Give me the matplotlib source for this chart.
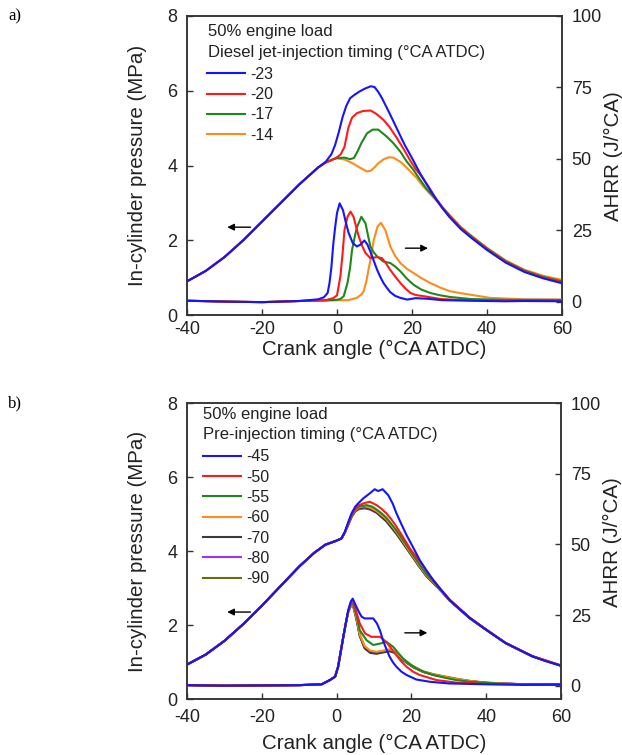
import matplotlib
matplotlib.use('Agg')
import matplotlib.pyplot as plt
import numpy as np

plt.rcParams['font.family'] = ['Liberation Sans', 'DejaVu Sans']
plt.rcParams['axes.unicode_minus'] = False

# ---------------- panel a: diesel jet-injection timing ----------------
labels_a = ['-23', '-20', '-17', '-14']
colors_a = ['#1414ff', '#ff1a1a', '#1a8a1a', '#ff8c1a']

ca_p_a = [
    [-40, -35, -30, -25, -20, -15, -10, -5, -3, -1.5, -0.5, 0.5, 1.5, 2.5, 3.5, 4.5, 6, 7.5, 9, 10, 11, 12, 13, 14,
     16, 18, 20, 22, 24, 26, 28, 30, 33, 36, 40, 45, 50, 55, 60],
    [-40, -35, -30, -25, -20, -15, -10, -5, -3, -1, 0, 1, 2, 2.5, 3, 4, 5.3, 7, 9, 10.5, 12.4, 14, 16, 18, 19.6, 21,
     22, 24, 26, 28, 30, 33, 36, 40, 45, 50, 55, 60],
    [-40, -35, -30, -25, -20, -15, -10, -5, -3, -1, 0, 2, 3.5, 4.5, 5.5, 6.5, 8, 9.5, 11, 13.3, 15, 16.9, 18.5, 20.4,
     22, 24, 26, 28, 30, 33, 36, 40, 45, 50, 55, 60],
    [-40, -35, -30, -25, -20, -15, -10, -5, -3, -1, 0, 2, 4, 6, 8, 9, 10, 11, 12.5, 13.8, 15, 16.9, 19, 21.3, 23, 25,
     27, 30, 33, 36, 40, 45, 50, 55, 60],
]
p_a = [
    [0.90, 1.18, 1.55, 2.0, 2.5, 3.0, 3.5, 3.95, 4.1, 4.3, 4.55, 4.9, 5.3, 5.6, 5.8, 5.88, 5.98, 6.06, 6.12, 6.1, 5.97,
     5.8, 5.6, 5.4, 4.98, 4.56, 4.2, 3.82, 3.48, 3.16, 2.87, 2.62, 2.3, 2.05, 1.74, 1.4, 1.15, 0.98, 0.85],
    [0.90, 1.18, 1.55, 2.0, 2.5, 3.0, 3.5, 3.95, 4.08, 4.16, 4.22, 4.3, 4.5, 4.75, 5.0, 5.28, 5.4, 5.46, 5.47, 5.38,
     5.22, 5.03, 4.73, 4.4, 4.12, 3.9, 3.78, 3.5, 3.18, 2.89, 2.64, 2.32, 2.07, 1.76, 1.42, 1.17, 1.0, 0.88],
    [0.90, 1.18, 1.55, 2.0, 2.5, 3.0, 3.5, 3.95, 4.08, 4.17, 4.2, 4.21, 4.17, 4.2, 4.38, 4.6, 4.86, 4.96, 4.96, 4.77,
     4.6, 4.37, 4.12, 3.88, 3.64, 3.36, 3.15, 2.9, 2.66, 2.34, 2.09, 1.78, 1.44, 1.19, 1.02, 0.9],
    [0.90, 1.18, 1.55, 2.0, 2.5, 3.0, 3.5, 3.95, 4.08, 4.17, 4.19, 4.16, 4.07, 3.95, 3.84, 3.86, 3.95, 4.06, 4.17,
     4.22, 4.21, 4.1, 3.9, 3.66, 3.44, 3.22, 3.0, 2.68, 2.36, 2.11, 1.8, 1.46, 1.21, 1.05, 0.94],
]

ca_q_a = [
    [-40, -30, -20, -10, -5, -3.5, -2.5, -2, -1.5, -1, -0.5, 0, 0.7, 1.6, 2.3, 3.1, 4.2, 5.3, 6.2, 7.3, 8.1, 8.9, 9.8,
     10.7, 11.6, 12.4, 13.3, 14.2, 15.5, 16.9, 18.7, 21, 24, 28, 35, 45, 50, 60],
    [-40, -30, -20, -10, -3, -1, 0, 0.9, 1.5, 2, 2.8, 3.6, 4.4, 5.8, 6.7, 7.6, 8.9, 10.7, 12, 13, 14.2, 15.5, 16.9,
     18.3, 19.6, 21, 23.1, 27.6, 32, 40, 50, 60],
    [-40, -30, -20, -10, -3, 0, 1, 1.8, 2.8, 3.5, 4, 4.7, 5.3, 6.5, 7.6, 8.3, 8.9, 9.8, 10.7, 12.4, 14.2, 15.5, 16.9,
     18.5, 20.4, 22.5, 24.9, 27.5, 30.2, 35.6, 45, 60],
    [-40, -30, -20, -10, -3, 3, 5.3, 6.5, 7.1, 7.8, 8.4, 9.1, 9.8, 10.8, 11.7, 12.9, 14.2, 15.5, 16.9, 18.5, 20.4,
     22.5, 24.9, 27.5, 30.2, 32.8, 35.6, 40.8, 50, 60],
]
q_a = [
    [0.3, 0.0, -0.2, 0.2, 0.8, 1.5, 3, 6.5, 12, 20, 26, 31, 34.4, 32, 28, 24, 20.5, 19.3, 19.9, 21.4, 20, 17.5, 14.3,
     11.1, 8.5, 6.5, 4.8, 3.3, 2.0, 1.3, 0.7, 1.2, 1.0, 0.5, 0.3, 0.1, 0.2, 0.1],
    [0.3, 0.0, -0.2, 0.2, 0.5, 1.2, 2.2, 8.8, 17, 25, 29.7, 31.5, 29.7, 22.8, 19.5, 17, 15.2, 15.6, 15.2, 13.5, 11.1,
     8.8, 6.5, 4.5, 3.0, 2.3, 1.9, 0.9, 0.6, 0.5, 0.4, 0.3],
    [0.3, 0.0, -0.2, 0.2, 0.4, 0.6, 1.0, 1.9, 6.5, 12, 18, 22.5, 26, 29.7, 27.4, 23, 19.3, 17.2, 15.8, 14, 13.5, 12.3,
     10.6, 8.2, 5.9, 4.2, 3.0, 2.2, 1.6, 0.9, 0.6, 0.6],
    [0.3, 0.0, -0.2, 0.2, 0.4, 0.5, 1.3, 2.5, 3.6, 7, 11.1, 16, 21.6, 26.2, 27.6, 25, 19.3, 16, 13.5, 11.6, 10, 8.2,
     6.5, 4.9, 3.6, 3.0, 2.4, 1.3, 0.8, 0.7],
]

# ---------------- panel b: pre-injection timing ----------------
labels_b = ['-45', '-50', '-55', '-60', '-70', '-80', '-90']
colors_b = ['#1414ff', '#ff1a1a', '#1a8a1a', '#ff8c1a', '#3a3a3a', '#9a33ff', '#6b6b12']

ca_p_b = [
    [-40, -35, -30, -25, -20, -15, -10, -6, -3, 0, 1.3, 2.2, 3, 4, 5, 5.8, 7.1, 8.9, 10.2, 11.1, 12.3, 13.8, 15, 16,
     17.3, 18.7, 20.5, 22.2, 24, 25.8, 28, 30.2, 33, 35.6, 40, 45.2, 52.4, 56, 60],
    [-40, -35, -30, -25, -20, -15, -10, -6, -3, 0, 1.3, 2.2, 3, 4, 5, 6, 7.6, 8.9, 10.7, 12, 13.3, 14.6, 16, 17.8,
     19.6, 21, 22.5, 25, 28, 30.2, 35.6, 40, 45.2, 52.4, 60],
    [-40, -35, -30, -25, -20, -15, -10, -6, -3, 0, 1.3, 2.2, 3, 4, 5, 6, 8, 9.5, 10.7, 12, 13.3, 16, 19.6, 22, 24, 28,
     30.2, 35.6, 40, 45.2, 52.4, 60],
    [-40, -35, -30, -25, -20, -15, -10, -6, -3, 0, 1.3, 2.2, 3, 4, 5, 6, 7.5, 9, 10.7, 13.3, 16, 19.6, 22, 24, 28,
     30.2, 35.6, 40, 45.2, 52.4, 60],
    [-40, -35, -30, -25, -20, -15, -10, -6, -3, 0, 1.3, 2.2, 3, 4, 5, 6, 7.5, 9, 10.7, 13.3, 16, 19.6, 22, 24, 28,
     30.2, 35.6, 40, 45.2, 52.4, 60],
    [-40, -35, -30, -25, -20, -15, -10, -6, -3, 0, 1.3, 2.2, 3, 4, 5, 6, 7.5, 9, 10.7, 13.3, 16, 19.6, 22, 24, 28,
     30.2, 35.6, 40, 45.2, 52.4, 60],
    [-40, -35, -30, -25, -20, -15, -10, -6, -3, 0, 1.3, 2.2, 3, 4, 5, 6, 7.5, 9, 10.7, 13.3, 16, 19.6, 22, 24, 28,
     30.2, 35.6, 40, 45.2, 52.4, 60],
]
p_b = [
    [0.93, 1.2, 1.57, 2.02, 2.52, 3.05, 3.58, 3.95, 4.17, 4.28, 4.34, 4.52, 4.75, 5.02, 5.2, 5.29, 5.42, 5.56, 5.67,
     5.62, 5.67, 5.51, 5.28, 5.02, 4.73, 4.43, 4.09, 3.76, 3.48, 3.22, 2.94, 2.68, 2.42, 2.19, 1.87, 1.51, 1.15,
     1.02, 0.9],
    [0.93, 1.2, 1.57, 2.02, 2.52, 3.05, 3.58, 3.95, 4.17, 4.28, 4.34, 4.5, 4.72, 4.98, 5.15, 5.24, 5.3, 5.33, 5.24,
     5.14, 5.02, 4.86, 4.66, 4.37, 4.07, 3.88, 3.68, 3.32, 2.95, 2.69, 2.2, 1.88, 1.52, 1.16, 0.91],
    [0.93, 1.2, 1.57, 2.02, 2.52, 3.05, 3.58, 3.95, 4.17, 4.28, 4.34, 4.5, 4.7, 4.95, 5.12, 5.2, 5.24, 5.2, 5.12,
     5.02, 4.9, 4.56, 4.02, 3.66, 3.38, 2.93, 2.68, 2.19, 1.87, 1.51, 1.15, 0.9],
    [0.93, 1.2, 1.57, 2.02, 2.52, 3.05, 3.58, 3.95, 4.17, 4.28, 4.34, 4.5, 4.7, 4.94, 5.1, 5.18, 5.21, 5.17, 5.08,
     4.86, 4.52, 3.98, 3.62, 3.35, 2.92, 2.67, 2.19, 1.87, 1.51, 1.15, 0.9],
    [0.93, 1.2, 1.57, 2.02, 2.52, 3.05, 3.58, 3.95, 4.17, 4.28, 4.34, 4.5, 4.68, 4.92, 5.08, 5.15, 5.18, 5.13, 5.04,
     4.8, 4.46, 3.94, 3.59, 3.32, 2.91, 2.66, 2.18, 1.87, 1.51, 1.15, 0.9],
    [0.93, 1.2, 1.57, 2.02, 2.52, 3.05, 3.58, 3.95, 4.17, 4.28, 4.34, 4.5, 4.68, 4.92, 5.07, 5.13, 5.15, 5.12, 5.03,
     4.81, 4.48, 3.96, 3.6, 3.33, 2.91, 2.66, 2.18, 1.87, 1.51, 1.15, 0.9],
    [0.93, 1.2, 1.57, 2.02, 2.52, 3.05, 3.58, 3.95, 4.17, 4.28, 4.34, 4.5, 4.7, 4.94, 5.1, 5.17, 5.2, 5.16, 5.06,
     4.84, 4.51, 3.98, 3.61, 3.34, 2.92, 2.67, 2.19, 1.87, 1.51, 1.15, 0.9],
]

ca_q_b = [
    [-40, -30, -20, -10, -4, -1.8, -0.4, 0.4, 1.1, 1.8, 2.5, 3.1, 3.8, 4.3, 5.3, 6, 6.7, 7.5, 8.4, 9.8, 10.8, 11.6,
     12.4, 13.3, 14.2, 15.1, 16, 17.3, 18.7, 21.3, 24.9, 30, 40, 50, 60],
    [-40, -30, -20, -10, -4, -1.8, -0.4, 0.4, 1.1, 1.8, 2.5, 3.1, 3.8, 4.4, 5.3, 6.2, 7.6, 9.3, 11.6, 13.3, 14.6, 16,
     17.3, 18.7, 20.4, 22.2, 26.7, 32, 40, 60],
    [-40, -30, -20, -10, -4, -1.8, -0.4, 0.4, 1.1, 1.8, 2.5, 3.1, 3.8, 4.4, 5.3, 6.2, 8, 9.8, 11.6, 13.3, 15.1, 16.4,
     17.8, 19.5, 21.3, 23.5, 25.8, 29, 32, 35.6, 45, 60],
    [-40, -30, -20, -10, -4, -1.8, -0.4, 0.4, 1.1, 1.8, 2.5, 3.1, 3.8, 4.4, 5.3, 6.2, 7.5, 9, 10.7, 12.5, 14.2, 15.5,
     17.8, 20.5, 23.1, 25.8, 28.4, 32, 35.6, 40, 50, 60],
    [-40, -30, -20, -10, -4, -1.8, -0.4, 0.4, 1.1, 1.8, 2.5, 3.1, 3.8, 4.4, 5.3, 6.2, 7.5, 9, 10.7, 12.5, 14.2, 15.5,
     17.8, 20.5, 23.1, 25.8, 28.4, 32, 35.6, 40, 50, 60],
    [-40, -30, -20, -10, -4, -1.8, -0.4, 0.4, 1.1, 1.8, 2.5, 3.1, 3.8, 4.4, 5.3, 6.2, 7.5, 9, 10.7, 12.5, 14.2, 15.5,
     17.8, 20.5, 23.1, 25.8, 28.4, 32, 35.6, 40, 50, 60],
    [-40, -30, -20, -10, -4, -1.8, -0.4, 0.4, 1.1, 1.8, 2.5, 3.1, 3.8, 4.4, 5.3, 6.2, 7.5, 9, 10.7, 12.5, 14.2, 15.5,
     17.8, 20.5, 23.1, 25.8, 28.4, 32, 35.6, 40, 50, 60],
]
q_b = [
    [0.2, 0.0, 0.1, 0.2, 0.5, 2, 3.2, 6.7, 12, 17.3, 22.5, 26.7, 29.8, 30.8, 27.9, 26, 24.4, 23.8, 23.8, 23.8, 22,
     19.5, 16.1, 13, 10.2, 8.2, 6.7, 5, 3.8, 2.2, 1.4, 0.8, 0.5, 0.3, 0.4],
    [0.2, 0.0, 0.1, 0.2, 0.5, 2, 3.2, 6.7, 12, 17.3, 22.5, 26.5, 29.4, 30.0, 26, 22, 18.5, 17.3, 17.3, 15.5, 13.2,
     10.8, 8.6, 6.7, 5, 3.8, 2.0, 1.1, 0.6, 0.4],
    [0.2, 0.0, 0.1, 0.2, 0.5, 2, 3.2, 6.7, 12, 17.3, 22.3, 26.3, 28.8, 29, 25, 19.6, 16.1, 14.4, 14.9, 15.5, 13.8,
     11.7, 9.6, 7.6, 6.1, 4.8, 3.8, 2.8, 2.0, 1.4, 0.6, 0.4],
    [0.2, 0.0, 0.1, 0.2, 0.5, 2, 3.2, 6.7, 12, 17.3, 22.2, 26.1, 28.3, 28.5, 24, 18, 14, 12.4, 12.0, 12.4, 12.9, 12.1,
     9.3, 6.7, 5.0, 4.0, 3.3, 2.4, 1.7, 1.0, 0.5, 0.4],
    [0.2, 0.0, 0.1, 0.2, 0.5, 2, 3.2, 6.7, 12, 17.3, 22.2, 26, 28.2, 28.4, 23.5, 17.5, 13.2, 11.6, 11.3, 11.8, 12.2,
     11.6, 9.0, 6.5, 4.9, 3.9, 3.2, 2.3, 1.6, 1.0, 0.5, 0.4],
    [0.2, 0.0, 0.1, 0.2, 0.5, 2, 3.2, 6.7, 12, 17.3, 22.2, 26, 28.2, 28.3, 23.8, 17.8, 13.5, 11.9, 11.6, 12.0, 12.4,
     11.8, 9.1, 6.6, 4.9, 3.9, 3.2, 2.3, 1.6, 1.0, 0.5, 0.4],
    [0.2, 0.0, 0.1, 0.2, 0.5, 2, 3.2, 6.7, 12, 17.3, 22.2, 26.1, 28.3, 28.5, 24, 18, 13.8, 12.2, 11.8, 12.3, 12.7,
     12.0, 9.4, 6.9, 5.1, 4.1, 3.4, 2.5, 1.7, 1.1, 0.5, 0.4],
]

TXT = '#222222'


def draw_panel(ax, ca_p, p, ca_q, q, labels, colors, title_line, leg_xy, head_x, head_y, xpad):
    ax2 = ax.twinx()
    handles = []
    # blue drawn last so it sits on top
    for i in reversed(range(len(labels))):
        h, = ax.plot(ca_p[i], p[i], color=colors[i], lw=1.5, zorder=3 + len(labels) - i)
        ax2.plot(ca_q[i], q[i], color=colors[i], lw=1.5, zorder=3 + len(labels) - i)
        handles.insert(0, h)

    ax.set_xlim(-40, 60)
    ax.set_ylim(0, 8)
    ax2.set_ylim(-4.7, 100)
    ax.set_xticks([-40, -20, 0, 20, 40, 60])
    ax.set_yticks([0, 2, 4, 6, 8])
    ax2.set_yticks([0, 25, 50, 75, 100])

    for a in (ax, ax2):
        for s in a.spines.values():
            s.set_color('#333333')
            s.set_linewidth(1.1)
        a.tick_params(direction='in', length=4, width=1, colors='#333333', labelcolor=TXT,
                      labelsize=13, pad=7)
    ax.tick_params(axis='x', pad=xpad)

    ax.set_ylabel('In-cylinder pressure (MPa)', fontsize=14.8, color=TXT)
    ax.yaxis.set_label_coords(-0.107, 0.5)
    ax2.set_ylabel('AHRR (J/°CA)', fontsize=14.8, color=TXT)
    ax2.yaxis.set_label_coords(1.113, 0.53)
    ax.set_xlabel('Crank angle (°CA ATDC)', fontsize=14.8, color=TXT)

    ax.text(head_x, head_y[0], '50% engine load', transform=ax.transAxes, fontsize=12,
            va='center', ha='left', color=TXT)
    ax.text(head_x, head_y[1], title_line, transform=ax.transAxes, fontsize=12,
            va='center', ha='left', color=TXT)
    leg = ax.legend(handles, labels, loc='upper left', bbox_to_anchor=leg_xy, frameon=False,
                    fontsize=11.5, handlelength=2.4, handletextpad=0.3, labelspacing=0.33,
                    borderaxespad=0, borderpad=0)
    for t in leg.get_texts():
        t.set_color(TXT)

    # direction arrows
    ax.annotate('', xy=(-30, 2.35), xytext=(-22.3, 2.35),
                arrowprops=dict(arrowstyle='-|>', color='black', lw=1, mutation_scale=10))
    ax2.annotate('', xy=(25, 18.7), xytext=(17.5, 18.7),
                 arrowprops=dict(arrowstyle='-|>', color='black', lw=1, mutation_scale=10))
    return ax2


fig = plt.figure(figsize=(6.22, 7.55), dpi=100)
ax_a = fig.add_axes([187 / 622, 1 - 315 / 755, 375 / 622, 299 / 755])
ax_b = fig.add_axes([187 / 622, 1 - 699 / 755, 374 / 622, 296 / 755])

draw_panel(ax_a, ca_p_a, p_a, ca_q_a, q_a, labels_a, colors_a,
           'Diesel jet-injection timing (°CA ATDC)', (0.053, 0.83), 0.055, (0.948, 0.879), 4)
ax_a.xaxis.set_label_coords(0.5, -0.082)

draw_panel(ax_b, ca_p_b, p_b, ca_q_b, q_b, labels_b, colors_b,
           'Pre-injection timing (°CA ATDC)', (0.043, 0.843), 0.043, (0.962, 0.892), 7)
ax_b.xaxis.set_label_coords(0.5, -0.117)

fig.text(8 / 622, 1 - 16 / 755, 'a)', fontsize=12, family=['Liberation Serif', 'DejaVu Serif'], va='center')
fig.text(8 / 622, 1 - 403 / 755, 'b)', fontsize=12, family=['Liberation Serif', 'DejaVu Serif'], va='center')

fig.savefig('out.png', dpi=100)
